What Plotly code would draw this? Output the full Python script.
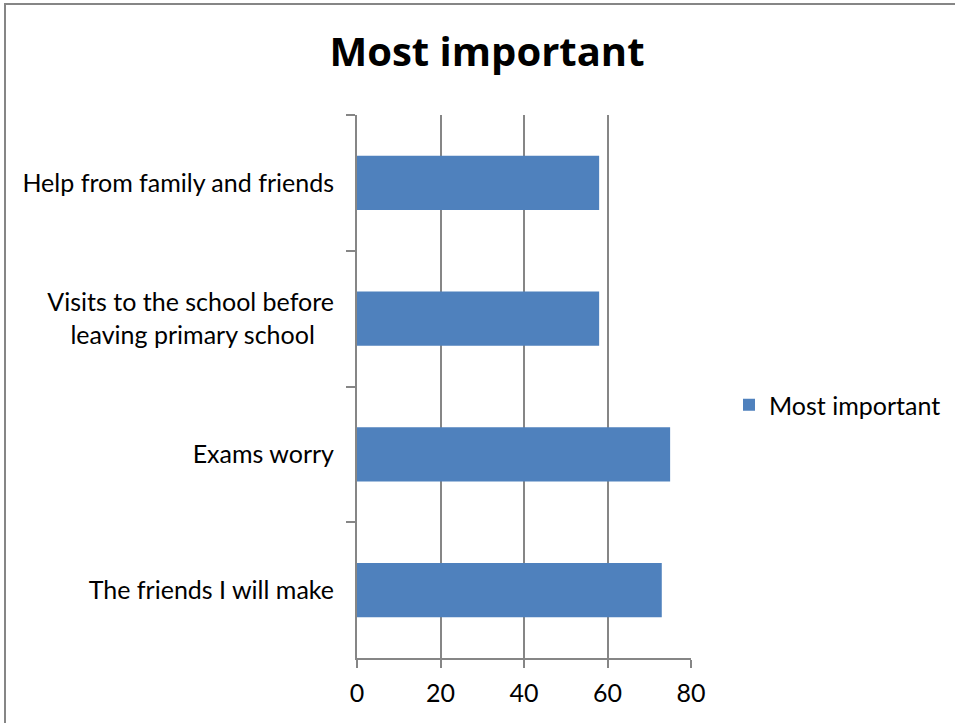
import plotly.graph_objects as go

categories = [
    "Help from family and friends",
    "Visits to the school before<br>leaving primary school\u00a0\u00a0\u00a0",
    "Exams worry",
    "The friends I will make",
]
values = [58, 58, 75, 73]
series_name = "Most important"
title_text = "Most important"
x_ticks = [0, 20, 40, 60, 80]

FONT = "Lato"
GRID = "#868686"
BAR = "#4F81BD"

fig = go.Figure()
fig.add_trace(go.Bar(
    y=categories, x=values, orientation="h", name=series_name,
    marker=dict(color=BAR, line=dict(width=0)),
    showlegend=True,
))

L, T = 357, 115
W, H = 955, 723
R = W - 691
B = H - 658
pw = W - L - R
ph = H - T - B

fig.update_layout(
    width=W, height=H,
    margin=dict(l=L, r=R, t=T, b=B, pad=0, autoexpand=False),
    paper_bgcolor="white", plot_bgcolor="white",
    font=dict(family=FONT, size=25, color="black"),
    title=dict(text="<b>" + title_text + "</b>", x=487 / W, xanchor="center",
               y=1 - 52 / H, yanchor="middle",
               font=dict(size=40, family="Open Sans", color="black")),
    bargap=0.6,
    showlegend=True,
    legend=dict(x=(729 - L) / pw, xanchor="left", y=(658 - 405) / ph, yanchor="middle",
                font=dict(size=25, family=FONT), itemwidth=30, bgcolor="rgba(0,0,0,0)"),
    xaxis=dict(range=[0, 80], tickvals=x_ticks, showgrid=True, gridcolor=GRID, gridwidth=2,
               showline=True, linecolor=GRID, linewidth=2, ticks="outside", ticklen=8,
               tickcolor=GRID, tickwidth=2, zeroline=False, tickfont=dict(size=25),
               ticklabelstandoff=4),
    yaxis=dict(autorange="reversed", showline=True, linecolor=GRID, linewidth=2,
               ticks="outside", ticklen=9, tickcolor=GRID, tickwidth=2,
               tickson="boundaries", showgrid=False, zeroline=False,
               ticklabelstandoff=16),
    shapes=[
        dict(type="line", xref="paper", yref="paper",
             x0=(4 - L) / pw, x1=(955 - L) / pw, y0=(658 - 4) / ph, y1=(658 - 4) / ph,
             line=dict(color="#868686", width=2)),
        dict(type="line", xref="paper", yref="paper",
             x0=(5 - L) / pw, x1=(5 - L) / pw, y0=(658 - 4) / ph, y1=(658 - 723) / ph,
             line=dict(color="#868686", width=2)),
    ],
)

fig.write_html("out.html", config={"displayModeBar": False},
               post_script="document.body.style.margin='0';")
